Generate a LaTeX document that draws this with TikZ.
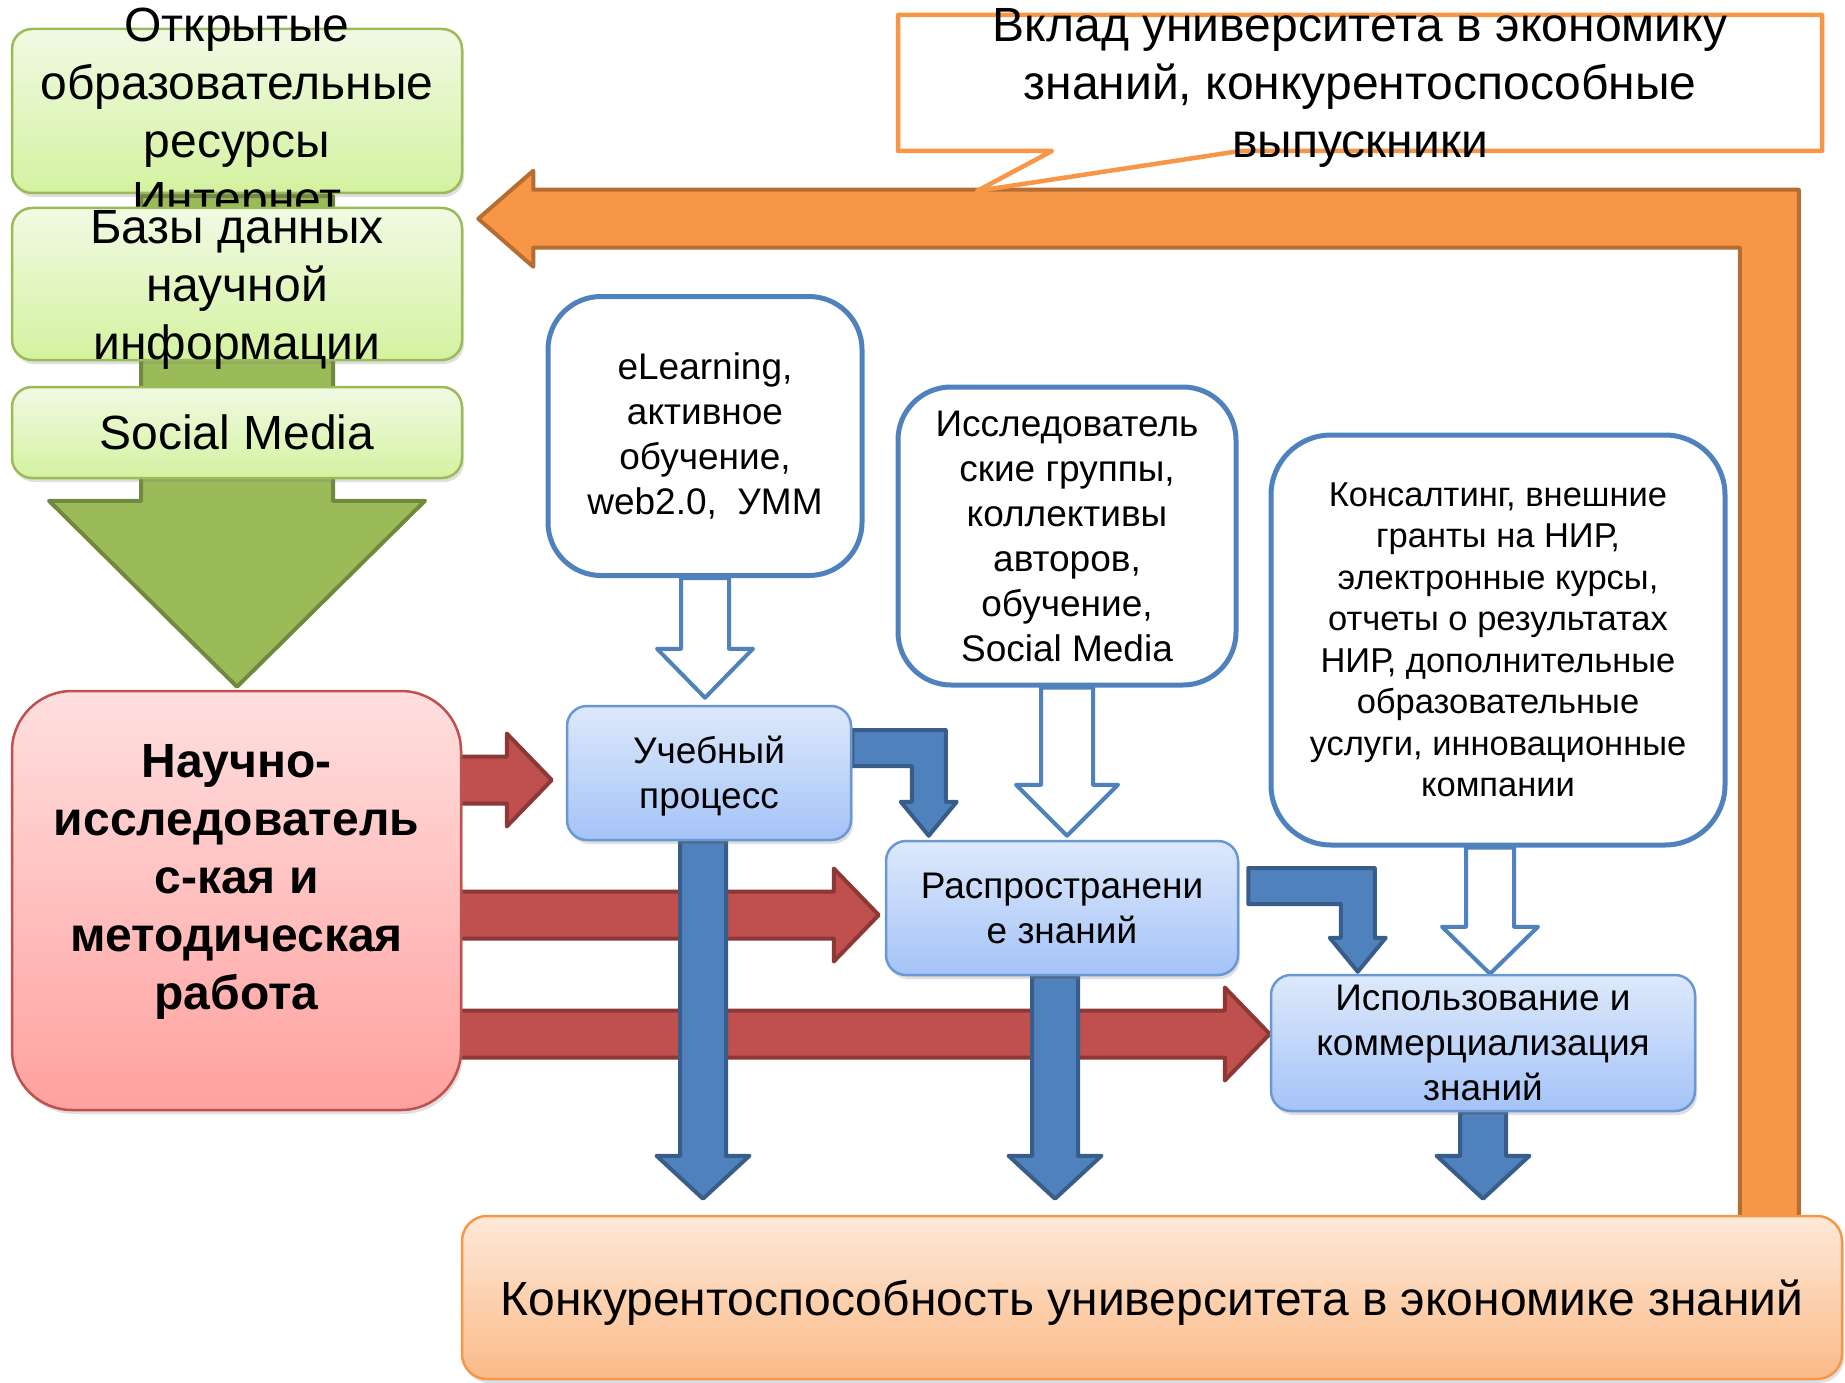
\documentclass[tikz,border=0pt]{standalone}
\usepackage{fontspec}
\setmainfont{Liberation Sans}
\usetikzlibrary{calc,backgrounds,shadows}

\definecolor{grnline}{HTML}{9BBB59}
\definecolor{grntop}{HTML}{F1FAE4}
\definecolor{grnbot}{HTML}{D4F2A0}
\definecolor{grndark}{HTML}{71893F}
\definecolor{redline}{HTML}{C0504D}
\definecolor{redtop}{HTML}{FFDFDF}
\definecolor{redbot}{HTML}{FFA19E}
\definecolor{reddark}{HTML}{8C3836}
\definecolor{blueline}{HTML}{4F81BD}
\definecolor{bluedark}{HTML}{385D8A}
\definecolor{bluestage}{HTML}{6A98D4}
\definecolor{bluetop}{HTML}{DDE9FB}
\definecolor{bluebot}{HTML}{A5C3F8}
\definecolor{orfill}{HTML}{F79646}
\definecolor{ordark}{HTML}{B66D31}
\definecolor{ortop}{HTML}{FDE9D9}
\definecolor{orbot}{HTML}{FBBA87}

\newcommand{\bigtxt}{\fontsize{48}{58}\selectfont}
\newcommand{\midtxt}{\fontsize{37}{45}\selectfont}
\newcommand{\smalltxt}{\fontsize{34.5}{41.5}\selectfont}

% block arrow to the right: style, tail, tip
\newcommand{\sideblock}[3]{%
  \draw[#1] ($(#2)+(0,-23.5)$) -- ($(#3)+(-45,-23.5)$) -- ($(#3)+(-45,-46.5)$)
    -- (#3) -- ($(#3)+(-45,46.5)$) -- ($(#3)+(-45,23.5)$) -- ($(#2)+(0,23.5)$) -- cycle;}
% block arrow downwards: style, tail, tip, half shaft, half head, head length
\newcommand{\downblock}[6]{%
  \draw[#1] ($(#2)+(-#4,0)$) -- ($(#3)+(-#4,-#6)$) -- ($(#3)+(-#5,-#6)$)
    -- (#3) -- ($(#3)+(#5,-#6)$) -- ($(#3)+(#4,-#6)$) -- ($(#2)+(#4,0)$) -- cycle;}
% bent block arrow, right then down: tail, tip
\newcommand{\bentblock}[2]{%
  \draw[bluearrow] ($(#1)+(0,-18)$) -- ($(#2|-#1)+(17,-18)$) -- ($(#2)+(17,-34)$)
    -- ($(#2)+(28,-34)$) -- (#2) -- ($(#2)+(-28,-34)$) -- ($(#2)+(-17,-34)$)
    -- ($(#2|-#1)+(-17,18)$) -- ($(#1)+(0,18)$) -- cycle;}

\begin{document}
\begin{tikzpicture}[x=1pt, y=-1pt]
        \tikzset{
           softshadow/.style={
                        drop shadow={shadow xshift=2pt, shadow yshift=-4pt, opacity=0.25}
                       },
           greenbox/.style={
                        rectangle,
                        rounded corners=20pt,
                        draw=grnline,
                        line width=2.5pt,
                        top color=grntop,
                        bottom color=grnbot,
                        minimum width=450pt,
                        inner sep=0pt,
                        font=\bigtxt,
                        softshadow
                       },
           boxtext/.style={
                        align=center,
                        inner sep=0pt,
                        font=\bigtxt
                       },
           nirbox/.style={
                        rectangle,
                        rounded corners=60pt,
                        draw=redline,
                        line width=2.5pt,
                        top color=redtop,
                        bottom color=redbot,
                        minimum width=449pt,
                        minimum height=419pt,
                        softshadow
                       },
           infobox/.style={
                        rectangle,
                        rounded corners=53pt,
                        draw=blueline,
                        line width=5pt,
                        fill=white,
                        align=center,
                        inner sep=0pt,
                        font=\midtxt
                       },
           stagebox/.style={
                        rectangle,
                        rounded corners=20pt,
                        draw=bluestage,
                        line width=2.5pt,
                        top color=bluetop,
                        bottom color=bluebot,
                        minimum height=134pt,
                        align=center,
                        inner sep=0pt,
                        font=\midtxt,
                        softshadow
                       },
           resultbox/.style={
                        rectangle,
                        rounded corners=25pt,
                        draw=orfill,
                        line width=2.5pt,
                        top color=ortop,
                        bottom color=orbot,
                        minimum width=1380pt,
                        minimum height=163pt,
                        inner sep=0pt,
                        text depth=0pt,
                        font=\bigtxt,
                        softshadow
                       },
           calloutline/.style={
                        draw=orfill,
                        line width=4.5pt,
                        line join=round,
                        fill=white
                       },
           redarrow/.style={fill=redline, draw=reddark, line width=4pt, line join=round},
           bluearrow/.style={fill=blueline, draw=bluedark, line width=4pt, line join=round},
           hollowarrow/.style={fill=white, draw=blueline, line width=4pt, line join=round},
           greenarrow/.style={fill=grnline, draw=grndark, line width=4pt, line join=round},
           orangearrow/.style={fill=orfill, draw=ordark, line width=4pt, line join=round},
                 }
        \useasboundingbox (0,0) rectangle (1845,1383);
    %--------------------
        \node[greenbox, minimum height=164pt,
              label={[boxtext, yshift=-6pt]center:{Открытые\\образовательные\\ресурсы\\Интернет}}] (oer)    at (237,111)   {};
        \node[greenbox, minimum height=152pt,
              label={[boxtext, yshift=-6pt]center:{Базы данных\\научной\\информации}}]             (bases)  at (237,284)   {};
        \node[greenbox, minimum height=91pt]                                                       (social) at (237,432.5) {Social Media};

        \node[nirbox,
              label={[boxtext, font=\bigtxt\bfseries, yshift=19pt]center:{Научно-\\исследователь\\с-кая и\\методическая\\работа}}] (nir) at (236.5,900.5) {};

        \node[infobox, minimum width=314pt, minimum height=279pt] (elearn)   at (705,436)   {eLearning,\\активное\\обучение,\\web2.0,~~УММ};
        \node[infobox, minimum width=338pt, minimum height=298pt] (research) at (1067,536)  {Исследователь\\ские группы,\\коллективы\\авторов,\\обучение,\\Social Media};
        \node[infobox, minimum width=454pt, minimum height=410pt,
              rounded corners=60pt, font=\smalltxt]                (cons)     at (1498,640)  {Консалтинг, внешние\\гранты на НИР,\\электронные курсы,\\отчеты о результатах\\НИР, дополнительные\\образовательные\\услуги, инновационные\\компании};

        \node[stagebox, minimum width=284pt,
              label={[align=center, inner sep=0pt, font=\midtxt, yshift=-3.5pt]center:{Учебный\\процесс}}] (ucheb) at (709,773) {};
        \node[stagebox, minimum width=352pt]                      (rasp)     at (1062,908)  {Распространени\\е знаний};
        \node[stagebox, minimum width=424pt, minimum height=136pt] (ispol)   at (1483,1043) {Использование и\\коммерциализация\\знаний};

        \node[resultbox]                                          (result)   at (1152,1297.5) {Конкурентоспособность университета в экономике знаний};

        \coordinate (ctip) at (977,191);
        \draw[calloutline] (898,15) -- (1822,15) -- (1822,151) -- (1240,151) -- (ctip) -- (1052,151) -- (898,151) -- cycle;
        \node[boxtext]                                            (contrib)  at (1360,88)   {Вклад университета в экономику\\знаний, конкурентоспособные\\выпускники};
    %--------------------
        \begin{scope}[on background layer]
        % feedback loop
        \coordinate (ltip)  at ($(bases.north east)+(15,12)$);
        \coordinate (lfoot) at ($(result.north east)+(-74,10)$);
        \draw[orangearrow] ($(lfoot)+(29.5,0)$) -- ($(lfoot|-ltip)+(29.5,-29)$) -- ($(ltip)+(55,-29)$)
              -- ($(ltip)+(55,-48)$) -- (ltip) -- ($(ltip)+(55,48)$) -- ($(ltip)+(55,29)$)
              -- ($(lfoot|-ltip)+(-29.5,29)$) -- ($(lfoot)+(-29.5,0)$) -- cycle;

        % resources into research
        \coordinate (gtail) at ($(oer.south)+(0,2)$);
        \coordinate (gtip)  at ($(gtail|-nir.north)+(0,-3)$);
        \downblock{greenarrow}{gtail}{gtip}{96}{188}{186}

        % research into the three stages
        \coordinate (r1tip)  at ($(ucheb.west)+(-14,7)$);
        \coordinate (r2tip)  at ($(rasp.west)+(-6,7)$);
        \coordinate (r3tip)  at ($(ispol.west)+(0,-9)$);
        \coordinate (r1tail) at ($(nir.east|-r1tip)+(-6,0)$);
        \coordinate (r2tail) at ($(nir.east|-r2tip)+(-6,0)$);
        \coordinate (r3tail) at ($(nir.east|-r3tip)+(-6,0)$);
        \sideblock{redarrow}{r1tail}{r1tip}
        \sideblock{redarrow}{r2tail}{r2tip}
        \sideblock{redarrow}{r3tail}{r3tip}

        % stages into competitiveness
        \coordinate (d1tail) at ($(ucheb.south)+(-6,0)$);
        \coordinate (d2tail) at ($(rasp.south)+(-7,0)$);
        \coordinate (d3tail) at (ispol.south);
        \coordinate (d1tip)  at ($(d1tail|-result.north)+(0,-16)$);
        \coordinate (d2tip)  at ($(d2tail|-result.north)+(0,-16)$);
        \coordinate (d3tip)  at ($(d3tail|-result.north)+(0,-16)$);
        \downblock{bluearrow}{d1tail}{d1tip}{23}{46.5}{43}
        \downblock{bluearrow}{d2tail}{d2tip}{23}{46.5}{43}
        \downblock{bluearrow}{d3tail}{d3tip}{23}{46.5}{43}

        % stage to stage
        \coordinate (b1tail) at ($(ucheb.east)+(0,-25)$);
        \coordinate (b1tip)  at ($(rasp.north west)+(44,-4)$);
        \coordinate (b2tail) at ($(rasp.east)+(9,-22)$);
        \coordinate (b2tip)  at ($(ispol.north west)+(88,-2)$);
        \bentblock{b1tail}{b1tip}
        \bentblock{b2tail}{b2tip}

        % tools into stages
        \coordinate (h1tip)  at ($(elearn.south|-ucheb.north)+(0,-7)$);
        \coordinate (h2tip)  at ($(research.south|-rasp.north)+(0,-4)$);
        \coordinate (h3tail) at ($(cons.south)+(-8,0)$);
        \coordinate (h3tip)  at (h3tail|-ispol.north);
        \downblock{hollowarrow}{elearn.south}{h1tip}{24}{48}{49}
        \downblock{hollowarrow}{research.south}{h2tip}{26}{51}{51}
        \downblock{hollowarrow}{h3tail}{h3tip}{24}{48}{47}
        \end{scope}
    \end{tikzpicture}
\end{document}
